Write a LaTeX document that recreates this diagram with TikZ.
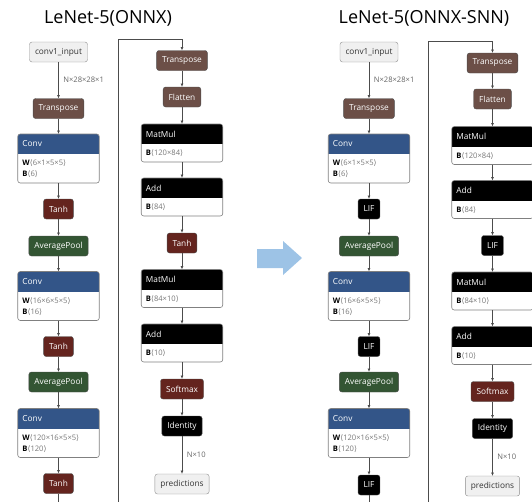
\documentclass[tikz,border=0pt]{standalone}
\usepackage{fontspec}
\setmainfont{Open Sans}
\newfontfamily\symfont{DejaVu Sans}
\usetikzlibrary{arrows.meta}

\definecolor{shapebrown}{RGB}{108,79,71}
\definecolor{actred}{RGB}{100,36,30}
\definecolor{poolgreen}{RGB}{51,85,51}
\definecolor{layerblue}{RGB}{51,85,136}
\definecolor{iogray}{RGB}{240,240,240}
\definecolor{argray}{RGB}{120,120,120}
\definecolor{arrowblue}{RGB}{157,195,230}

\newcommand{\opfont}{\fontsize{8.3}{9}\selectfont}
\newcommand{\argfont}{\fontsize{7.6}{11}\selectfont}
\newcommand{\tensorarg}[2]{\textbf{#1}\textcolor{argray}{{\symfont ⟨}#2{\symfont ⟩}}}

\tikzset{
op/.style={
	draw=black!70, rounded corners=2.5pt, text=white, font=\opfont,
	minimum height=20pt, inner xsep=5.5pt, inner ysep=0pt, outer sep=0pt},
shapeop/.style={op, fill=shapebrown},
actop/.style={op, fill=actred},
poolop/.style={op, fill=poolgreen},
blackop/.style={op, fill=black},
ionode/.style={op, draw=black!45, fill=iogray, text=black!80},
layerbox/.style={minimum width=81.5pt, inner sep=0pt, outer sep=0pt},
headtext/.style={anchor=west, inner sep=0pt, text=white, font=\opfont},
argtext/.style={anchor=north west, inner sep=0pt, align=left, font=\argfont},
edgelbl/.style={anchor=west, inner sep=0pt, xshift=4.5pt, font=\argfont, text=black!60},
flow/.style={draw=black!70, line width=0.7pt, -{Latex[length=3.5pt,width=3pt]}},
paneltitle/.style={font=\fontsize{18}{21}\selectfont}
}

\newcommand{\layer}[6]{%
	\node[layerbox, minimum height=#3pt] (#1) at (#2) {};
	\fill[white, rounded corners=2.5pt] (#1.north west) rectangle (#1.south east);
	\begin{scope}
		\clip[rounded corners=2.5pt] (#1.north west) rectangle (#1.south east);
		\fill[#4] (#1.north west) rectangle ([yshift=-20pt]#1.north east);
	\end{scope}
	\draw[black!50, line width=0.6pt, rounded corners=2.5pt] (#1.north west) rectangle (#1.south east);
	\node[headtext] at ([xshift=4.5pt,yshift=-10pt]#1.north west) {#5};
	\node[argtext] at ([xshift=4.5pt,yshift=-26pt]#1.north west) {#6};
}

\begin{document}
\begin{tikzpicture}[x=1pt, y=-1pt]
	\useasboundingbox (0,0) rectangle (532,501);

	\node[paneltitle] (ttl) at (108,18) {LeNet-5(ONNX)};
	\node[ionode] (in) at (58.5,52) {conv1\_input};
	\node[shapeop] (tr1) at (58.5,108.5) {Transpose};
	\layer{conv1}{58.5,158.5}{49}{layerblue}{Conv}{\tensorarg{W}{6×1×5×5}\\\tensorarg{B}{6}}
	\node[actop] (tanh1) at (58.5,209) {Tanh};
	\node[poolop] (pool1) at (58.5,246) {AveragePool};
	\layer{conv2}{58.5,296}{49}{layerblue}{Conv}{\tensorarg{W}{16×6×5×5}\\\tensorarg{B}{16}}
	\node[actop] (tanh2) at (58.5,346.5) {Tanh};
	\node[poolop] (pool2) at (58.5,382) {AveragePool};
	\layer{conv3}{58.5,433}{49}{layerblue}{Conv}{\tensorarg{W}{120×16×5×5}\\\tensorarg{B}{120}}
	\node[actop] (tanh3) at (58.5,483.5) {Tanh};
	\coordinate (down) at (58.5,506);
	\coordinate (wrapb) at (118,506);
	\coordinate (wrapt) at (118,39);
	\node[shapeop] (tr2) at (182,60.5) {Transpose};
	\node[shapeop] (flat) at (182,97) {Flatten};
	\layer{mm1}{182,143}{38}{black}{MatMul}{\tensorarg{B}{120×84}}
	\layer{add1}{182,197}{38}{black}{Add}{\tensorarg{B}{84}}
	\node[actop] (tanh4) at (182,243) {Tanh};
	\layer{mm2}{182,288.5}{38}{black}{MatMul}{\tensorarg{B}{84×10}}
	\layer{add2}{182,343}{38}{black}{Add}{\tensorarg{B}{10}}
	\node[actop] (soft) at (182,389) {Softmax};
	\node[blackop] (ident) at (182,426) {Identity};
	\node[ionode] (pred) at (182,484) {predictions};

	\draw[flow] (in) -- node[edgelbl] {N×28×28×1} (tr1);
	\draw[flow] (tr1) -- (conv1);
	\draw[flow] (conv1) -- (tanh1);
	\draw[flow] (tanh1) -- (pool1);
	\draw[flow] (pool1) -- (conv2);
	\draw[flow] (conv2) -- (tanh2);
	\draw[flow] (tanh2) -- (pool2);
	\draw[flow] (pool2) -- (conv3);
	\draw[flow] (conv3) -- (tanh3);
	\draw[flow, -] (tanh3) -- (down);
	\draw[flow] (wrapb) -- (wrapt) -| (tr2);
	\draw[flow] (tr2) -- (flat);
	\draw[flow] (flat) -- (mm1);
	\draw[flow] (mm1) -- (add1);
	\draw[flow] (add1) -- (tanh4);
	\draw[flow] (tanh4) -- (mm2);
	\draw[flow] (mm2) -- (add2);
	\draw[flow] (add2) -- (soft);
	\draw[flow] (soft) -- (ident);
	\draw[flow] (ident) -- node[edgelbl] {N×10} (pred);

	\fill[arrowblue] (257,249) -- (283,249) -- (283,241) -- (302,258) -- (283,275) -- (283,268) -- (257,268) -- cycle;

	\begin{scope}[xshift=310.5pt]
	\node[paneltitle] (sttl) at (113.5,18) {LeNet-5(ONNX-SNN)};
	\node[ionode] (sin) at (58.5,52) {conv1\_input};
	\node[shapeop] (str1) at (58.5,108.5) {Transpose};
	\layer{sconv1}{58.5,158.5}{49}{layerblue}{Conv}{\tensorarg{W}{6×1×5×5}\\\tensorarg{B}{6}}
	\node[blackop] (slif1) at (58.5,209) {LIF};
	\node[poolop] (spool1) at (58.5,246) {AveragePool};
	\layer{sconv2}{58.5,296}{49}{layerblue}{Conv}{\tensorarg{W}{16×6×5×5}\\\tensorarg{B}{16}}
	\node[blackop] (slif2) at (58.5,346.5) {LIF};
	\node[poolop] (spool2) at (58.5,382) {AveragePool};
	\layer{sconv3}{58.5,433}{49}{layerblue}{Conv}{\tensorarg{W}{120×16×5×5}\\\tensorarg{B}{120}}
	\node[blackop] (slif3) at (58.5,485) {LIF};
	\coordinate (sdown) at (58.5,506);
	\coordinate (swrapb) at (118,506);
	\coordinate (swrapt) at (118,41);
	\node[shapeop] (str2) at (182,63) {Transpose};
	\node[shapeop] (sflat) at (182,99) {Flatten};
	\layer{smm1}{182,145.5}{38}{black}{MatMul}{\tensorarg{B}{120×84}}
	\layer{sadd1}{182,199.5}{38}{black}{Add}{\tensorarg{B}{84}}
	\node[blackop] (slif4) at (182,245.5) {LIF};
	\layer{smm2}{182,291}{38}{black}{MatMul}{\tensorarg{B}{84×10}}
	\layer{sadd2}{182,345.5}{38}{black}{Add}{\tensorarg{B}{10}}
	\node[actop] (ssoft) at (182,391.5) {Softmax};
	\node[blackop] (sident) at (182,428.5) {Identity};
	\node[ionode] (spred) at (182,486) {predictions};

	\draw[flow] (sin) -- node[edgelbl] {N×28×28×1} (str1);
	\draw[flow] (str1) -- (sconv1);
	\draw[flow] (sconv1) -- (slif1);
	\draw[flow] (slif1) -- (spool1);
	\draw[flow] (spool1) -- (sconv2);
	\draw[flow] (sconv2) -- (slif2);
	\draw[flow] (slif2) -- (spool2);
	\draw[flow] (spool2) -- (sconv3);
	\draw[flow] (sconv3) -- (slif3);
	\draw[flow, -] (slif3) -- (sdown);
	\draw[flow] (swrapb) -- (swrapt) -| (str2);
	\draw[flow] (str2) -- (sflat);
	\draw[flow] (sflat) -- (smm1);
	\draw[flow] (smm1) -- (sadd1);
	\draw[flow] (sadd1) -- (slif4);
	\draw[flow] (slif4) -- (smm2);
	\draw[flow] (smm2) -- (sadd2);
	\draw[flow] (sadd2) -- (ssoft);
	\draw[flow] (ssoft) -- (sident);
	\draw[flow] (sident) -- node[edgelbl] {N×10} (spred);
	\end{scope}
\end{tikzpicture}
\end{document}
